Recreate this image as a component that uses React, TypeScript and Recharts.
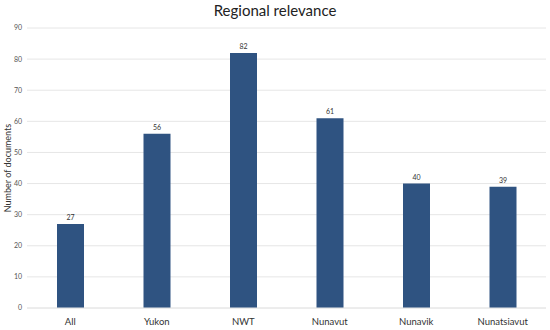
import { BarChart, Bar, XAxis, YAxis, CartesianGrid, LabelList } from 'recharts';

const regions = ['All', 'Yukon', 'NWT', 'Nunavut', 'Nunavik', 'Nunatsiavut'];
const documents = [27, 56, 82, 61, 40, 39];
const yTicks = [0, 10, 20, 30, 40, 50, 60, 70, 80, 90];

const data = regions.map((name, i) => ({ name, count: documents[i] }));

const FONT = 'Lato, "Open Sans", sans-serif';

export default function App() {
  return (
    <div style={{ position: 'absolute', left: 0, top: 0, width: 550, height: 330, background: '#fff', fontFamily: FONT }}>
      <div style={{ position: 'absolute', top: 1, left: 0, width: 550, textAlign: 'center', fontSize: 15, color: '#222' }}>
        Regional relevance
      </div>
      <BarChart width={550} height={330} data={data} margin={{ top: 28, right: 4, left: 0, bottom: 0 }} barCategoryGap={0}>
        <CartesianGrid vertical={false} stroke="#e6e6e6" />
        <XAxis
          dataKey="name"
          height={22}
          axisLine={{ stroke: '#e6e6e6' }}
          tickLine={false}
          tick={{ fontSize: 9.5, fill: '#333', fontFamily: FONT }}
          tickMargin={4}
        />
        <YAxis
          width={27}
          domain={[0, 90]}
          ticks={yTicks}
          axisLine={false}
          tickLine={false}
          tickSize={3}
          tick={{ fontSize: 7, fill: '#555', fontFamily: FONT }}
          label={{ value: 'Number of documents', angle: -90, position: 'insideLeft', offset: 8, style: { fontSize: 9, fill: '#333', fontFamily: FONT, textAnchor: 'middle' } }}
        />
        <Bar dataKey="count" fill="#2f5381" barSize={27} isAnimationActive={false}>
          <LabelList dataKey="count" position="top" offset={4} style={{ fontSize: 7, fill: '#333', fontFamily: FONT }} />
        </Bar>
      </BarChart>
    </div>
  );
}
